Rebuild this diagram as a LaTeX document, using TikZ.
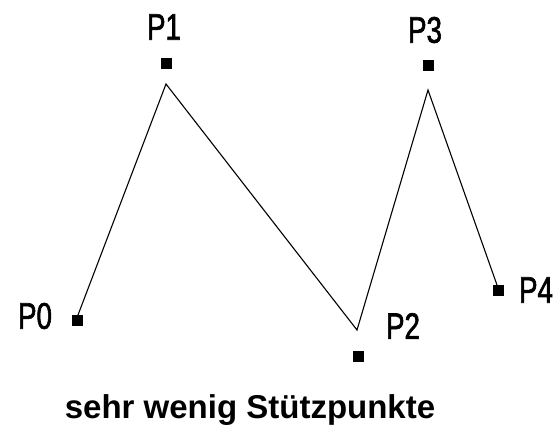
\documentclass[tikz,border=0pt]{standalone}
\usepackage{fontspec}
\setmainfont{Liberation Sans}
\newfontfamily\labelfont[FakeStretch=0.75,FakeBold=1.6]{Liberation Sans}
\usepackage{tikz}
\usetikzlibrary{positioning}
\tikzset{
  ptmark/.style={draw=none, fill=black, minimum size=11pt, inner sep=0pt},
  ptlabel/.style={font=\labelfont\fontsize{37}{40}\selectfont, inner sep=0pt},
  polyline/.style={draw=black, line width=1.1pt, line join=miter},
  caption/.style={font=\fontsize{33}{38}\selectfont\bfseries, inner sep=0pt, anchor=base},
}

\begin{document}
\begin{tikzpicture}[x=1pt, y=-1pt]
\useasboundingbox[fill=white] (0,0) rectangle (558,429);

% Stuetzpunkte
\node[ptmark] (p0) at (77,320) {};
\node[ptmark] (p1) at (166,63) {};
\node[ptmark] (p2) at (358,356) {};
\node[ptmark] (p3) at (428,65) {};
\node[ptmark] (p4) at (498,290) {};

% Labels
\node[ptlabel] (l0) at (35,316) {P0};
\node[ptlabel] (l1) at (164,27) {P1};
\node[ptlabel] (l2) at (403,326) {P2};
\node[ptlabel] (l3) at (425,30) {P3};
\node[ptlabel] (l4) at (536,290) {P4};

% Kurve
\coordinate (v0) at (78,315);
\coordinate (v1) at (166,84);
\coordinate (v2) at (357,330);
\coordinate (v3) at (428,90);
\coordinate (v4) at (497,285);
\draw[polyline] (v0) -- (v1) -- (v2) -- (v3) -- (v4);

\node[caption] (cap) at (250,418) {sehr wenig Stützpunkte};
\end{tikzpicture}
\end{document}
